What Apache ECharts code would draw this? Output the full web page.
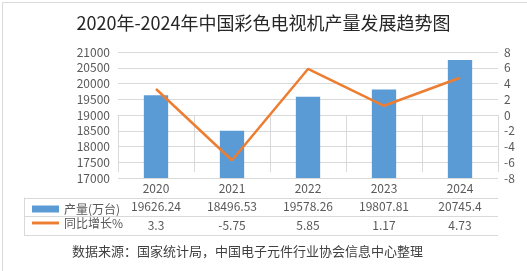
<!DOCTYPE html>
<html>
<head>
<meta charset="utf-8">
<script src="https://cdn.jsdelivr.net/npm/echarts@6/dist/echarts.min.js"></script>
<style>
    html, body { margin: 0; padding: 0; background: #fff; }
    #main { width: 527px; height: 271px; }
</style>
</head>
<body>
<div id="main"></div>
<script>
    var years = ['2020', '2021', '2022', '2023', '2024'];
    var output = [19626.24, 18496.53, 19578.26, 19807.81, 20745.4];
    var growth = [3.3, -5.75, 5.85, 1.17, 4.73];

    var font = '"Noto Sans CJK SC", "Microsoft YaHei", sans-serif';
    var gray = '#595959';
    var lineGray = '#d9d9d9';

    var chart = echarts.init(document.getElementById('main'));
    var option = {
        animation: false,
        textStyle: { fontFamily: font },
        title: {
            text: '2020年-2024年中国彩色电视机产量发展趋势图',
            left: 'center',
            top: 9,
            textStyle: { fontSize: 18, fontWeight: 'normal', color: '#262626', fontFamily: font }
        },
        graphic: [
            {
                type: 'rect', left: 0, top: 0, silent: true,
                shape: { width: 526, height: 270 },
                style: { fill: 'none', stroke: lineGray, lineWidth: 1 }
            },
            {
                type: 'text', left: 72, top: 245,
                style: {
                    text: '数据来源：国家统计局，中国电子元件行业协会信息中心整理',
                    font: '13px ' + font, fill: '#404040'
                }
            }
        ],
        legend: {
            orient: 'vertical',
            left: 27,
            top: 198,
            itemGap: 2,
            itemWidth: 27,
            itemHeight: 7,
            textStyle: { fontSize: 12, color: gray, fontFamily: font },
            data: [
                { name: '产量(万台)', icon: 'rect' },
                { name: '同比增长%', icon: 'path://M0,0L28,0L28,3L0,3Z' }
            ]
        },
        grid: [
            { left: 118, right: 29, top: 52, bottom: 93 },
            { left: 24, right: 29, top: 198, bottom: 36 }
        ],
        xAxis: [
            {
                type: 'category',
                gridIndex: 0,
                data: years,
                axisLine: { lineStyle: { color: lineGray } },
                axisTick: { show: true, length: 57, lineStyle: { color: lineGray } },
                axisLabel: {
                    margin: 1,
                    color: gray,
                    fontSize: 12,
                    lineHeight: 18.5,
                    formatter: function (v, i) {
                        return v + '\n' + output[i] + '\n' + growth[i];
                    }
                }
            },
            { type: 'value', gridIndex: 1, show: false, min: 0, max: 1 }
        ],
        yAxis: [
            {
                type: 'value', gridIndex: 0,
                min: 17000, max: 21000, interval: 500,
                axisLine: { show: false },
                axisTick: { show: false },
                axisLabel: { color: gray, fontSize: 12, margin: 8, formatter: function (v) { return String(v); } },
                splitLine: { lineStyle: { color: lineGray } }
            },
            {
                type: 'value', gridIndex: 0,
                min: -8, max: 8, interval: 2,
                position: 'right',
                axisLine: { show: false },
                axisTick: { show: false },
                axisLabel: { color: gray, fontSize: 12, margin: 6 },
                splitLine: { show: false }
            },
            {
                type: 'value', gridIndex: 1,
                min: 0, max: 2, interval: 1,
                axisLine: { show: true, lineStyle: { color: lineGray } },
                axisTick: { show: false },
                axisLabel: { show: false },
                splitLine: { show: true, lineStyle: { color: lineGray } }
            }
        ],
        series: [
            {
                name: '产量(万台)',
                type: 'bar',
                xAxisIndex: 0, yAxisIndex: 0,
                barWidth: '32%',
                itemStyle: { color: '#5b9bd5' },
                data: output
            },
            {
                name: '同比增长%',
                type: 'line',
                xAxisIndex: 0, yAxisIndex: 1,
                showSymbol: false,
                symbol: 'none',
                itemStyle: { color: '#ed7d31' },
                lineStyle: { color: '#ed7d31', width: 2.5 },
                data: growth
            }
        ]
    };
    chart.setOption(option);
</script>
</body>
</html>
